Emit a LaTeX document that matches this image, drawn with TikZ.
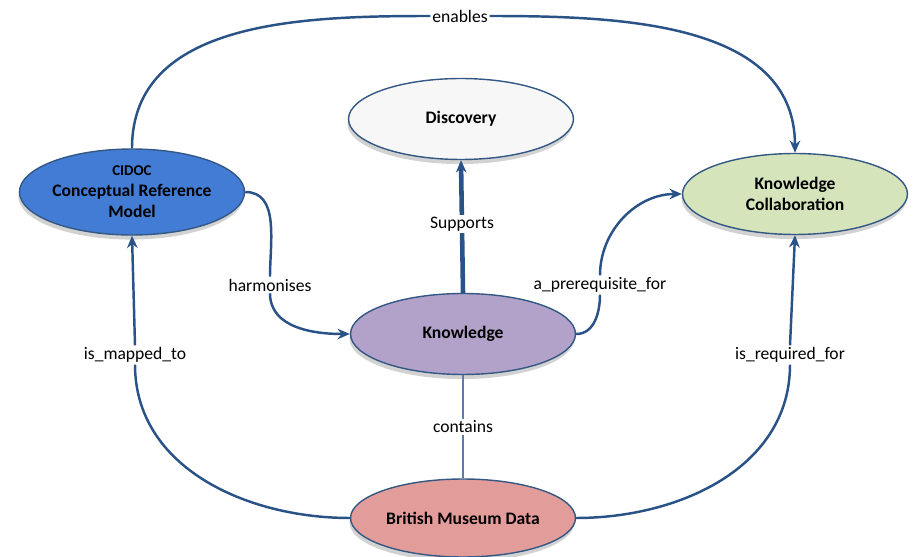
\documentclass[tikz,border=0pt]{standalone}
\usepackage{fontspec}
\setmainfont{Carlito}
\usetikzlibrary{shapes.geometric,shadows,arrows.meta}

\definecolor{linkblue}{RGB}{41,82,135}
\definecolor{rimblue}{RGB}{52,88,132}
\definecolor{cidocfill}{RGB}{66,124,212}
\definecolor{discfill}{RGB}{247,247,247}
\definecolor{collabfill}{RGB}{214,228,188}
\definecolor{knowfill}{RGB}{178,162,202}
\definecolor{bmdfill}{RGB}{226,156,154}

\def\conceptwd{4.5cm}

\begin{document}
\begin{tikzpicture}[x=0.02cm,y=-0.02cm,>={Stealth[length=7pt,width=6pt]},font=\fontsize{10}{12}\selectfont]
    \tikzstyle{concept}=[ellipse, draw=rimblue, line width=0.8pt, minimum width=\conceptwd, minimum height=1.62cm, inner sep=0pt, align=center, font=\fontsize{10}{12}\selectfont\bfseries, drop shadow={shadow xshift=-0.6pt,shadow yshift=-2.6pt,fill=black!35}]
    \tikzstyle{link}=[draw=linkblue, line width=1.4pt]
    \tikzstyle{rel}=[fill=white, inner sep=1pt]

    \useasboundingbox (0,0) rectangle (917,557);

    % concepts
    \node[concept, fill=cidocfill, minimum height=1.72cm] (CIDOC) at (132,192) {{\fontsize{8.5}{10}\selectfont CIDOC}\\Conceptual Reference\\Model};
    \node[concept, fill=discfill] (Disc) at (461,119) {Discovery};
    \node[concept, fill=collabfill] (Collab) at (795,194) {Knowledge\\Collaboration};
    \node[concept, fill=knowfill] (Know) at (463,334) {Knowledge};
    \node[concept, fill=bmdfill, minimum height=1.56cm] (BMD) at (463,518) {British Museum Data};

    % relation labels
    \node[rel] (enab) at (460,16) {enables};
    \node[rel] (harm) at (270,285) {harmonises};
    \node[rel] (prereq) at (600,285) {a\_prerequisite\_for};
    \node[rel] (mapped) at (135,355) {is\_mapped\_to};
    \node[rel] (required) at (790,355) {is\_required\_for};

    % relations
    \draw[link] (CIDOC.north) to[out=90,in=180] (enab.west);
    \draw[link,->] (enab.east) to[out=0,in=90] (Collab.north);

    \draw[link,line width=2.6pt,->] (Know.north) -- (Disc.south) node[rel,midway,pos=0.52] {Supports};

    \draw[link] (CIDOC.east) to[out=0,in=90] (harm.north);
    \draw[link,->] (harm.south) to[out=-90,in=180] (Know.west);

    \draw[link] (Know.east) to[out=0,in=-90] (prereq.south);
    \draw[link,->] (prereq.north) to[out=90,in=180] (Collab.west);

    \draw[link] (BMD.west) to[out=180,in=-90] (mapped.south);
    \draw[link,->] (mapped.north) -- (CIDOC.south);

    \draw[link] (BMD.east) to[out=0,in=-90] (required.south);
    \draw[link,->] (required.north) -- (Collab.south);

    \draw[draw=linkblue!75, line width=1.2pt] (Know.south) -- (BMD.north) node[rel,midway] {contains};
\end{tikzpicture}
\end{document}
